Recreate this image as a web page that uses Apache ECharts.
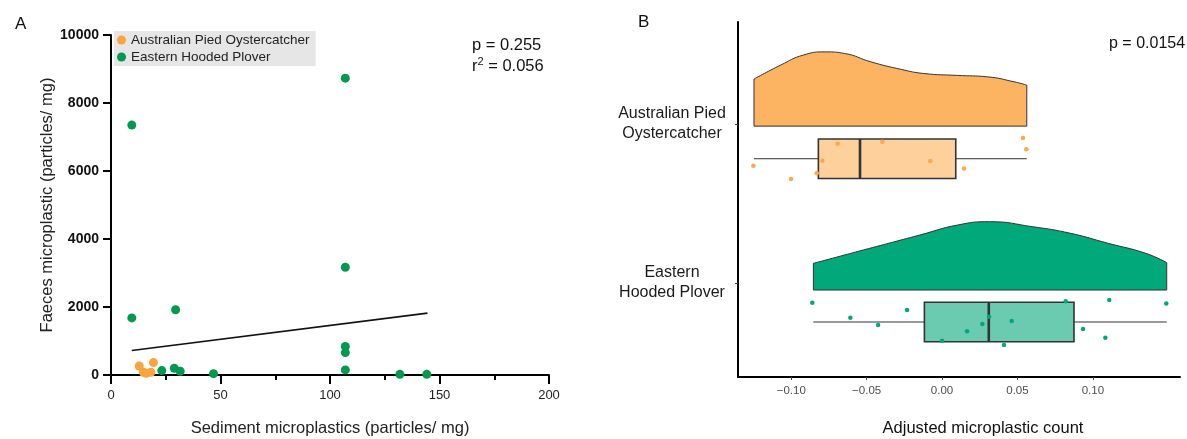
<!DOCTYPE html>
<html><head><meta charset="utf-8">
<script src="https://cdn.jsdelivr.net/npm/echarts@6/dist/echarts.min.js"></script>
<style>html,body{margin:0;padding:0;background:#fff}#c{width:1187px;height:439px}</style>
</head><body><div id="c"></div>
<script>
// ---------- Panel A data ----------
const seriesNames = ['Australian Pied Oystercatcher', 'Eastern Hooded Plover'];
const oysterA = [[12.9,265],[14.8,80],[16.1,50],[18.2,80],[19.4,365]];
const ploverA = [[9.5,7350],[9.5,1680],[107,8730],[107,3170],[29.5,1920],[107,840],[107,660],[107,150],
                 [23.2,130],[28.9,197],[31.6,110],[46.8,40],[131.9,20],[144.2,20]];
const trendA = [[9.5,720],[144.5,1820]];
const statsA = ['p = 0.255', '0.056'];

// ---------- Panel B data ----------
const bCategories = ['Australian Pied\nOystercatcher', 'Eastern\nHooded Plover'];
const bXTicks = [-0.10, -0.05, 0, 0.05, 0.10];
const oysterDensX = [-0.1247,-0.1070,-0.0920,-0.0771,-0.0646,-0.0471,-0.0271,-0.0121,0.0103,0.0303,0.0477,0.0562];
const oysterDensH = [0.296,0.384,0.447,0.467,0.457,0.404,0.357,0.331,0.319,0.310,0.279,0.258];
const ploverDensX = [-0.0853,-0.0521,-0.0147,0.0103,0.0315,0.0602,0.0852,0.1101,0.1351,0.1490];
const ploverDensH = [0.168,0.252,0.346,0.409,0.430,0.398,0.357,0.294,0.231,0.172];
const oysterBox = [-0.1247,-0.0820,-0.0544,0.0091,0.0562];
const ploverBox = [-0.0853,-0.0117,0.0310,0.0875,0.1490];
const oysterPts = [[-0.1251,1.262],[-0.1001,1.346],[-0.0831,1.310],[-0.0794,1.231],[-0.0692,1.124],
                   [-0.0396,1.111],[-0.0078,1.233],[0.0146,1.279],[0.0537,1.088],[0.0559,1.159]];
const ploverPts = [[-0.0860,2.124],[-0.0608,2.218],[-0.0424,2.264],[-0.0232,2.170],[0.0000,2.363],
                   [0.0166,2.304],[0.0267,2.258],[0.0312,2.212],[0.0462,2.239],[0.0411,2.390],
                   [0.0820,2.115],[0.0935,2.289],[0.1083,2.344],[0.1109,2.107],[0.1487,2.128]];
const statsB = 'p = 0.0154';

// ---------- layout / style ----------
const FONT = 'Liberation Sans, Arial, sans-serif';
const DENS_BASE = [1.013, 2.044];
const BOX_CENTER = [1.218, 2.245];
const BOX_HALF = 0.124;
const C_OR = '#f9a43c', C_GR = '#00994f';
const DENS_FILL = ['#fdb462', '#00a87a'];
const BOX_FILL = ['#fed09b', '#6acbb0'];
const PT_B = ['#ffa84a', '#00a878'];

function densLine(xs, hs, base) { return xs.map((x, i) => [x, base - hs[i]]); }
function densEdge(xs, hs, base) {
  const n = xs.length - 1;
  return [[xs[0], base - hs[0]], [xs[0], base], [xs[n], base], [xs[n], base - hs[n]]];
}
function densSeries(name, xs, hs, k) {
  return [{
    name: name, type: 'line', xAxisIndex: 1, yAxisIndex: 1, data: densLine(xs, hs, DENS_BASE[k]),
    smooth: 0.5, symbol: 'none', silent: true, z: 2,
    lineStyle: { color: '#333', width: 1 },
    areaStyle: { color: DENS_FILL[k], opacity: 1, origin: DENS_BASE[k] }
  }, {
    name: name + ' edge', type: 'line', xAxisIndex: 1, yAxisIndex: 1, data: densEdge(xs, hs, DENS_BASE[k]),
    symbol: 'none', silent: true, z: 3, lineStyle: { color: '#333', width: 1 }
  }];
}

const chart = echarts.init(document.getElementById('c'), null, { renderer: 'canvas' });
const option = {
  animation: false,
  textStyle: { fontFamily: FONT },
  title: [
    { text: 'A', left: 10, top: 11, textStyle: { fontSize: 17, fontWeight: 'normal', color: '#111', fontFamily: FONT } },
    { text: 'B', left: 633, top: 9, textStyle: { fontSize: 17, fontWeight: 'normal', color: '#111', fontFamily: FONT } },
    { text: statsA[0], left: 467, top: 32, textStyle: { fontSize: 16.5, fontWeight: 'normal', color: '#111', fontFamily: FONT } },
    { text: '{n|r}{s|2}{n| = ' + statsA[1] + '}', left: 467, top: 51,
      textStyle: { fontWeight: 'normal', rich: {
        n: { fontSize: 16.5, color: '#111', fontFamily: FONT, fontWeight: 'normal', lineHeight: 20 },
        s: { fontSize: 11, color: '#111', fontFamily: FONT, fontWeight: 'normal', verticalAlign: 'top', lineHeight: 14 }
      } } },
    { text: statsB, left: 1104, top: 31, textStyle: { fontSize: 16, fontWeight: 'normal', color: '#111', fontFamily: FONT } }
  ],
  legend: {
    data: seriesNames, orient: 'vertical', left: 114, top: 31,
    backgroundColor: '#e6e6e6', padding: [2, 6, 2, 3], itemGap: 3,
    itemWidth: 9, itemHeight: 9, icon: 'circle', selectedMode: false,
    textStyle: { fontSize: 13.5, color: '#222', fontFamily: FONT }
  },
  grid: [
    { left: 111, width: 438, top: 35, height: 340, outerBoundsMode: 'none' },
    { left: 738, width: 442, top: 22, height: 355, outerBoundsMode: 'none' }
  ],
  xAxis: [
    { gridIndex: 0, type: 'value', min: 0, max: 200, interval: 50,
      name: 'Sediment microplastics (particles/ mg)', nameLocation: 'middle', nameGap: 45,
      nameTextStyle: { fontSize: 16.5, color: '#222', fontFamily: FONT },
      axisLine: { show: true, lineStyle: { color: '#000', width: 2 } },
      axisTick: { show: true, length: 9, lineStyle: { color: '#000', width: 2 } },
      minorTick: { show: true, splitNumber: 2, length: 5, lineStyle: { color: '#000', width: 2 } },
      axisLabel: { fontSize: 13, color: '#222', margin: 14, fontFamily: FONT, formatter: v => String(v) },
      splitLine: { show: false } },
    { gridIndex: 1, type: 'value', min: -0.1353, max: 0.1578,
      name: 'Adjusted microplastic count', nameLocation: 'middle', nameGap: 43,
      nameTextStyle: { fontSize: 16.5, color: '#111', fontFamily: FONT, padding: [0, 0, 0, 48] },
      axisLine: { show: true, onZero: false, lineStyle: { color: '#000', width: 2 } },
      axisTick: { show: true, length: 3, customValues: bXTicks, lineStyle: { color: '#444', width: 1 } },
      axisLabel: { fontSize: 11.5, color: '#4d4d4d', margin: 8, customValues: bXTicks, fontFamily: FONT,
        formatter: v => (v < 0 ? '\u2212' : '') + Math.abs(v).toFixed(2) },
      splitLine: { show: false } }
  ],
  yAxis: [
    { gridIndex: 0, type: 'value', min: 0, max: 10000, interval: 2000,
      name: 'Faeces microplastic (particles/ mg)', nameLocation: 'middle', nameGap: 55,
      nameTextStyle: { fontSize: 16.5, color: '#222', fontFamily: FONT },
      axisLine: { show: true, lineStyle: { color: '#000', width: 2 } },
      axisTick: { show: true, length: 8, lineStyle: { color: '#000', width: 2 } },
      axisLabel: { fontSize: 14, fontWeight: 'bold', color: '#111', margin: 12, fontFamily: FONT, formatter: v => String(v) },
      splitLine: { show: false } },
    { gridIndex: 1, type: 'value', inverse: true, min: 0.358, max: 2.591,
      axisLine: { show: true, onZero: false, lineStyle: { color: '#000', width: 2 } },
      axisTick: { show: true, length: 3, customValues: [1, 2], lineStyle: { color: '#333', width: 1 } },
      axisLabel: { customValues: [1, 2], fontSize: 16, lineHeight: 20, color: '#1a1a1a', align: 'center',
        margin: 66, fontFamily: FONT, formatter: v => bCategories[Math.round(v) - 1] },
      splitLine: { show: false } }
  ],
  series: [
    { name: 'trend', type: 'line', xAxisIndex: 0, yAxisIndex: 0, data: trendA, symbol: 'none', silent: true,
      lineStyle: { color: '#111', width: 1.6 }, z: 2 },
    { name: seriesNames[0], type: 'scatter', xAxisIndex: 0, yAxisIndex: 0, data: oysterA, symbolSize: 9,
      itemStyle: { color: C_OR, opacity: 1 }, clip: false, z: 3 },
    { name: seriesNames[1], type: 'scatter', xAxisIndex: 0, yAxisIndex: 0, data: ploverA, symbolSize: 9,
      itemStyle: { color: C_GR, opacity: 1 }, clip: false, z: 4 },
    ...densSeries('oyster density', oysterDensX, oysterDensH, 0),
    ...densSeries('plover density', ploverDensX, ploverDensH, 1),
    { name: 'boxes', type: 'custom', xAxisIndex: 1, yAxisIndex: 1, silent: true, z: 5,
      data: [oysterBox.concat([BOX_CENTER[0]]), ploverBox.concat([BOX_CENTER[1]])],
      encode: { x: [0, 1, 2, 3, 4], y: 5 },
      renderItem: function (params, api) {
        const lo = api.value(0), q1 = api.value(1), md = api.value(2), q3 = api.value(3), hi = api.value(4), c = api.value(5);
        const pLo = api.coord([lo, c]), pHi = api.coord([hi, c]);
        const a = api.coord([q1, c - BOX_HALF]), b = api.coord([q3, c + BOX_HALF]);
        const mt = api.coord([md, c - BOX_HALF]), mb = api.coord([md, c + BOX_HALF]);
        return { type: 'group', children: [
          { type: 'line', shape: { x1: pLo[0], y1: pLo[1], x2: pHi[0], y2: pHi[1] }, style: { stroke: '#333', lineWidth: 1 } },
          { type: 'rect', shape: { x: a[0], y: Math.min(a[1], b[1]), width: b[0] - a[0], height: Math.abs(b[1] - a[1]) },
            style: { fill: BOX_FILL[params.dataIndex], stroke: '#333', lineWidth: 1.6 } },
          { type: 'line', shape: { x1: mt[0], y1: mt[1], x2: mb[0], y2: mb[1] }, style: { stroke: '#333', lineWidth: 2.6 } }
        ] };
      } },
    { name: 'oyster points', type: 'scatter', xAxisIndex: 1, yAxisIndex: 1, data: oysterPts, symbolSize: 4.5,
      itemStyle: { color: PT_B[0], opacity: 1 }, z: 6, clip: false },
    { name: 'plover points', type: 'scatter', xAxisIndex: 1, yAxisIndex: 1, data: ploverPts, symbolSize: 4.5,
      itemStyle: { color: PT_B[1], opacity: 1 }, z: 6, clip: false }
  ]
};
chart.setOption(option);
</script></body></html>
